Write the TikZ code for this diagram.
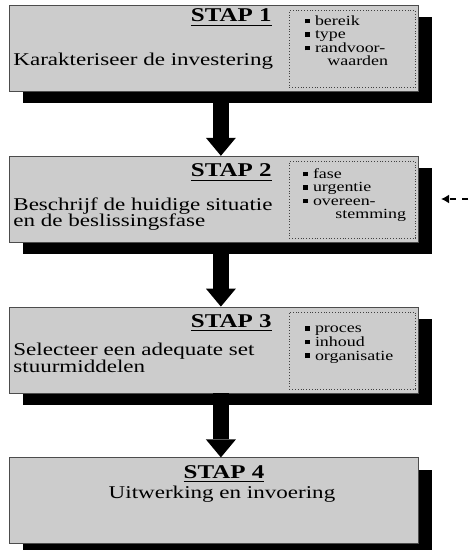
\documentclass[tikz,border=0pt]{standalone}
\usepackage{fontspec}
\setmainfont{Liberation Serif}[FakeStretch=1.28]
\usetikzlibrary{arrows.meta,shadows,positioning}
\newcommand{\blok}{\rule[0.3ex]{2.3pt}{2.3pt}\hspace{2.5pt}}
\tikzset{
    stapbox/.style={
        rectangle,
        draw=black!70,
        fill=black!20,
        minimum width=204.5pt,
        minimum height=43pt,
        inner sep=0pt,
        drop shadow={shadow xshift=7pt, shadow yshift=-6pt, fill=black, opacity=1},
    },
    kernbox/.style={
        rectangle,
        densely dotted,
        draw=black!75,
        minimum width=63pt,
        minimum height=38.5pt,
        inner sep=0pt,
    },
    kop/.style={font=\fontsize{9.75}{10}\selectfont\bfseries, inner sep=0pt},
    tekst/.style={font=\fontsize{9}{8.3}\selectfont, align=left, inner sep=0pt},
    lijst/.style={font=\fontsize{7}{6.8}\selectfont, align=left, inner sep=0pt},
    stapjump/.style={line width=8pt, -{Triangle[length=9pt, width=15pt, line width=0pt]}},
    terugpijl/.style={line width=1pt, dash pattern=on 3pt off 3pt, -{Latex[length=4pt, width=4.5pt]}},
}

\begin{document}
\begin{tikzpicture}[x=0.5pt, y=0.5pt, node distance=32pt]
    \useasboundingbox (0,0) rectangle (468,-550);

    % de vier stappen
    \node [stapbox, anchor=north west] (stap1) at (9,-5) {};
    \node [stapbox] (stap2) [below=of stap1] {};
    \node [stapbox] (stap3) [below=of stap2] {};
    \node [stapbox] (stap4) [below=of stap3] {};

    % kaders met aandachtspunten
    \node [kernbox, anchor=north east] (kern1) at ([xshift=-1.5pt, yshift=-2.5pt]stap1.north east) {};
    \node [kernbox, anchor=north east] (kern2) at ([xshift=-1.5pt, yshift=-2.5pt]stap2.north east) {};
    \node [kernbox, anchor=north east] (kern3) at ([xshift=-1.5pt, yshift=-2.5pt]stap3.north east) {};

    \node [kop, anchor=base east] (kop1) at (272,-22) {\underline{STAP 1}};
    \node [kop, anchor=base east] (kop2) at (272,-177) {\underline{STAP 2}};
    \node [kop, anchor=base east] (kop3) at (272,-327) {\underline{STAP 3}};
    \node [kop, anchor=base] (kop4) at (224,-478) {\underline{STAP 4}};

    % base ligt bij meerdere regels op de laatste regel
    \node [tekst, anchor=base west] (oms1) at (13,-66) {Karakteriseer de investering};
    \node [tekst, anchor=base west] (oms2) at (13,-227) {Beschrijf de huidige situatie\\en de beslissingsfase};
    \node [tekst, anchor=base west] (oms3) at (13,-372) {Selecteer een adequate set\\stuurmiddelen};
    \node [tekst, anchor=base] (oms4) at (222,-498) {Uitwerking en invoering};

    \node [lijst, anchor=base west] (punt1) at (305,-66) {\blok bereik\\\blok type\\\blok randvoor-\\\hspace{11pt}waarden};
    \node [lijst, anchor=base west] (punt2) at (303,-219) {\blok fase\\\blok urgentie\\\blok overeen-\\\hspace{16pt}stemming};
    \node [lijst, anchor=base west] (punt3) at (305,-360) {\blok proces\\\blok inhoud\\\blok organisatie};

    % pijlen tussen de stappen
    \draw [stapjump] ([xshift=3.5pt]stap1.south) -- ([xshift=3.5pt]stap2.north);
    \draw [stapjump] ([xshift=3.5pt]stap2.south) -- ([xshift=3.5pt]stap3.north);
    \draw [stapjump] ([xshift=3.5pt]stap3.south) -- ([xshift=3.5pt]stap4.north);

    \coordinate (terug) at (468,-199);
    \coordinate (terugpunt) at (441,-199);
    \draw [terugpijl] (terug) -- (terugpunt);
\end{tikzpicture}
\end{document}
